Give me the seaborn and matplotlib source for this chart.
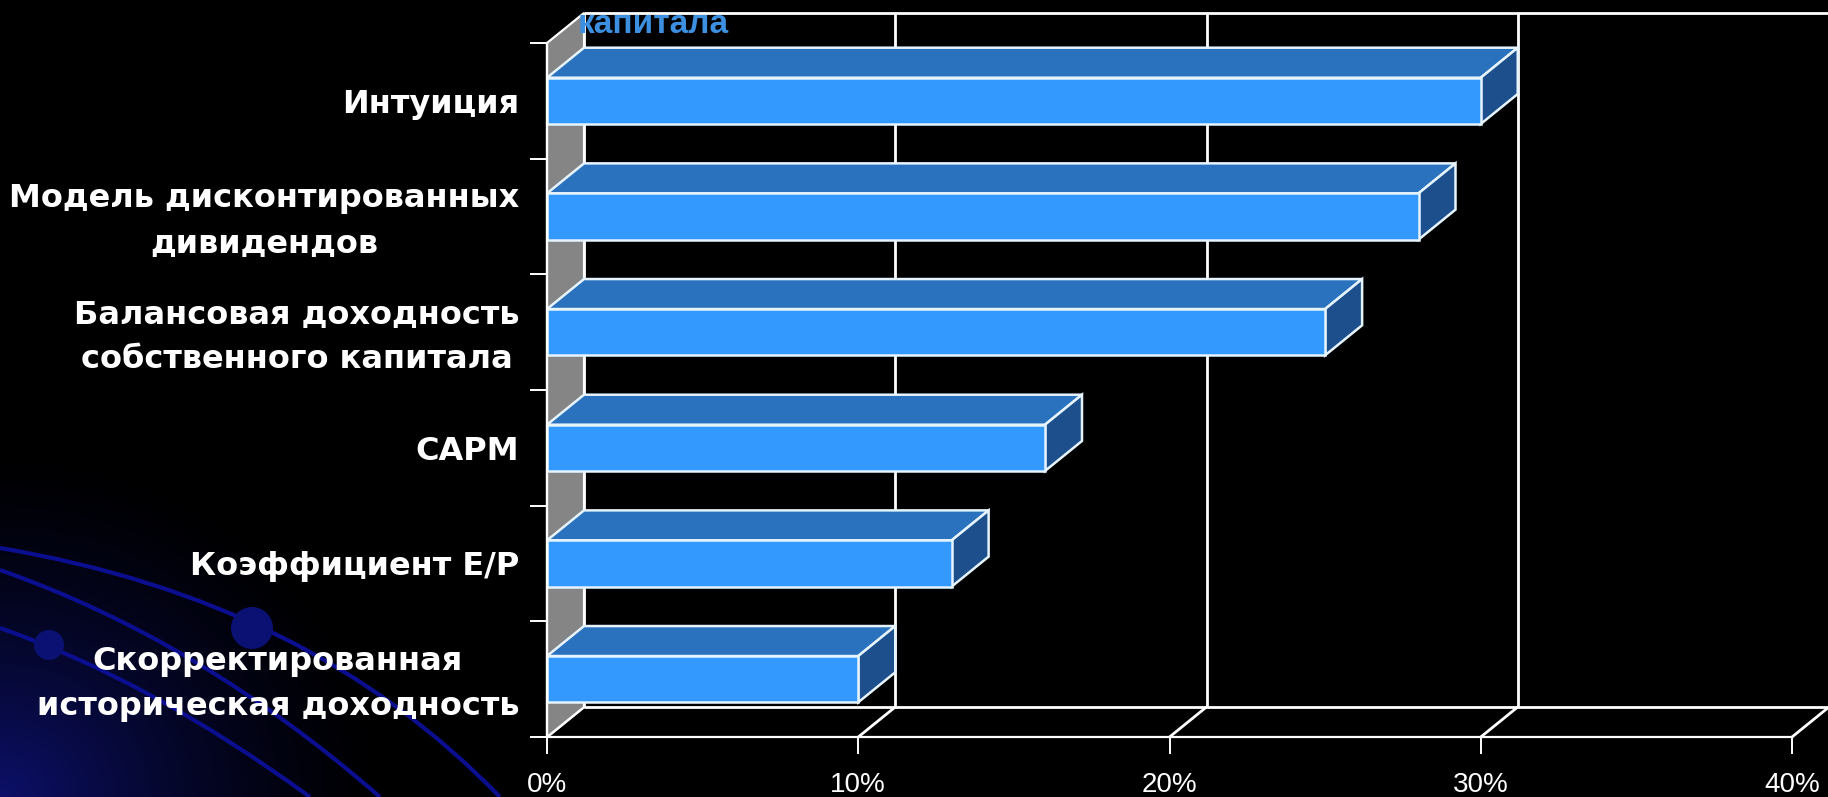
import numpy as np
import pandas as pd
import matplotlib
matplotlib.use("Agg")
import matplotlib.pyplot as plt
import seaborn as sns
from matplotlib.patches import Polygon, PathPatch, Ellipse
from matplotlib.path import Path
from matplotlib.lines import Line2D
import matplotlib.transforms as mtransforms

# ---------------- data ----------------
categories = [
    "Интуиция",
    "Модель дисконтированных\nдивидендов",
    "Балансовая доходность\nсобственного капитала",
    "CAPM",
    "Коэффициент E/P",
    "Скорректированная\nисторическая доходность",
]
values = [30, 28, 25, 16, 13, 10]
x_ticks = [0, 10, 20, 30, 40]
x_tick_labels = ["0%", "10%", "20%", "30%", "40%"]
title_fragment = "капитала"

# ---------------- style ----------------
W, H, DPI = 1828, 797, 100
DX, DY = 37, 30            # 3-D depth offset in pixels
FRONT = "#3399ff"
TOP = "#2a72be"
SIDE = "#1d4f8c"
EDGE = "#e6f4ff"
WALL = "#858585"

sns.set_theme(style="white")
plt.rcParams["font.family"] = ["Liberation Sans", "DejaVu Sans"]

fig = plt.figure(figsize=(W / DPI, H / DPI), dpi=DPI, facecolor="black")

# ---- background glow (bottom-left) ----
bg = fig.add_axes([0, 0, 1, 1], zorder=-10)
bg.set_axis_off()
yy, xx = np.mgrid[0:H, 0:W]
d = np.sqrt((xx / 400.0) ** 2 + ((H - yy) / 360.0) ** 2)
inten = np.clip(1 - d, 0, 1) ** 1.5
rgb = np.zeros((H, W, 3))
base = np.array([12, 16, 105]) / 255.0
for k in range(3):
    rgb[..., k] = inten * base[k]
bg.imshow(rgb, extent=[0, 1, 0, 1], aspect="auto", origin="upper")
bg.set_xlim(0, 1)
bg.set_ylim(0, 1)

def fpt(x, y):
    return (x / W, 1 - y / H)

curves = [((0, 548), (310, 600), (500, 797)),
          ((0, 570), (200, 640), (380, 797)),
          ((0, 628), (150, 680), (310, 797))]
for p0, c, p2 in curves:
    path = Path([fpt(*p0), fpt(*c), fpt(*p2)], [Path.MOVETO, Path.CURVE3, Path.CURVE3])
    fig.add_artist(PathPatch(path, facecolor="none", edgecolor="#0b0e8e", lw=3,
                             transform=fig.transFigure, zorder=-5))
for (cx, cy, r) in [(252, 628, 21), (49, 645, 15)]:
    fig.add_artist(Ellipse(fpt(cx, cy), 2 * r / W, 2 * r / H, facecolor="#0a1173",
                           edgecolor="none", transform=fig.transFigure, zorder=-4))

# ---- main axes: front plane of the 3-D box ----
x0p, x1p, ytop, ybot = 547, 1792, 43, 737
ax = fig.add_axes([x0p / W, (H - ybot) / H, (x1p - x0p) / W, (ybot - ytop) / H])
ax.patch.set_alpha(0)

df = pd.DataFrame({"category": categories, "value": values})
sns.barplot(data=df, x="value", y="category", orient="h", width=0.4, color=FRONT,
            saturation=1, edgecolor=EDGE, linewidth=1.8, ax=ax, zorder=5)

ax.set_xlim(0, 40)
ax.set_ylim(len(categories) - 0.5, -0.5)
fig.canvas.draw()

# depth offset in data units
p = ax.transData.transform([(0, 0)])[0]
ddx, ddy = ax.transData.inverted().transform([p + np.array([DX, DY])])[0]

yt, yb = -0.5, len(categories) - 0.5
wline = dict(color="white", lw=2, clip_on=False, solid_capstyle="butt")

# back wall grid lines and frame
for xv in x_ticks:
    ax.add_line(Line2D([xv + ddx, xv + ddx], [yt + ddy, yb + ddy], zorder=0.5, **wline))
ax.add_line(Line2D([ddx, 40 + ddx], [yt + ddy, yt + ddy], zorder=0.5, **wline))
ax.add_line(Line2D([ddx, 40 + ddx], [yb + ddy, yb + ddy], zorder=0.5, **wline))
# floor diagonals
for xv in x_ticks:
    ax.add_line(Line2D([xv, xv + ddx], [yb, yb + ddy], zorder=0.6, **wline))
# left side wall
ax.add_patch(Polygon([(0, yt), (ddx, yt + ddy), (ddx, yb + ddy), (0, yb)], closed=True,
                     facecolor=WALL, edgecolor="white", lw=1.6, clip_on=False, zorder=1))

# 3-D faces of bars
bars = [b for b in ax.patches if b.get_zorder() == 5]
for b in bars:
    bx, by, bw, bh = b.get_x(), b.get_y(), b.get_width(), b.get_height()
    top = [(bx, by), (bx + bw, by), (bx + bw + ddx, by + ddy), (bx + ddx, by + ddy)]
    side = [(bx + bw, by), (bx + bw, by + bh), (bx + bw + ddx, by + bh + ddy),
            (bx + bw + ddx, by + ddy)]
    ax.add_patch(Polygon(top, closed=True, facecolor=TOP, edgecolor=EDGE, lw=1.8,
                         clip_on=False, zorder=4))
    ax.add_patch(Polygon(side, closed=True, facecolor=SIDE, edgecolor=EDGE, lw=1.8,
                         clip_on=False, zorder=4))

# axes / ticks
for s in ["top", "right"]:
    ax.spines[s].set_visible(False)
for s in ["left", "bottom"]:
    ax.spines[s].set_color("white")
    ax.spines[s].set_linewidth(1.6)
    ax.spines[s].set_zorder(6)

ax.set_xticks(x_ticks)
ax.set_xticklabels(x_tick_labels)
ax.tick_params(axis="x", colors="white", length=12.2, width=1.4, direction="out",
               pad=13, labelsize=20, bottom=True)
ax.set_yticks(range(len(categories)))
ax.set_yticks(np.arange(-0.5, len(categories), 1.0), minor=True)
ax.tick_params(axis="y", which="major", length=0, pad=20, labelsize=23, labelcolor="white")
ax.tick_params(axis="y", which="minor", length=12.2, width=1.4, color="white",
               direction="out", left=True)
ax.set_xlabel("")
ax.set_ylabel("")
ax.grid(False)
fig.canvas.draw()
shift = mtransforms.ScaledTranslation(0, 6 / DPI, fig.dpi_scale_trans)
for lab in ax.get_yticklabels():
    lab.set_fontweight("bold")
    lab.set_family(["DejaVu Sans"])
    lab.set_multialignment("center")
    lab.set_linespacing(1.6)
    if "\n" in lab.get_text():
        lab.set_transform(lab.get_transform() + shift)

fig.text(653 / W, 1 - 33 / H, title_fragment, ha="center", va="baseline",
         fontsize=24, fontweight="bold", color="#3d8fe0")

fig.savefig("out.png", dpi=DPI, facecolor="black")
